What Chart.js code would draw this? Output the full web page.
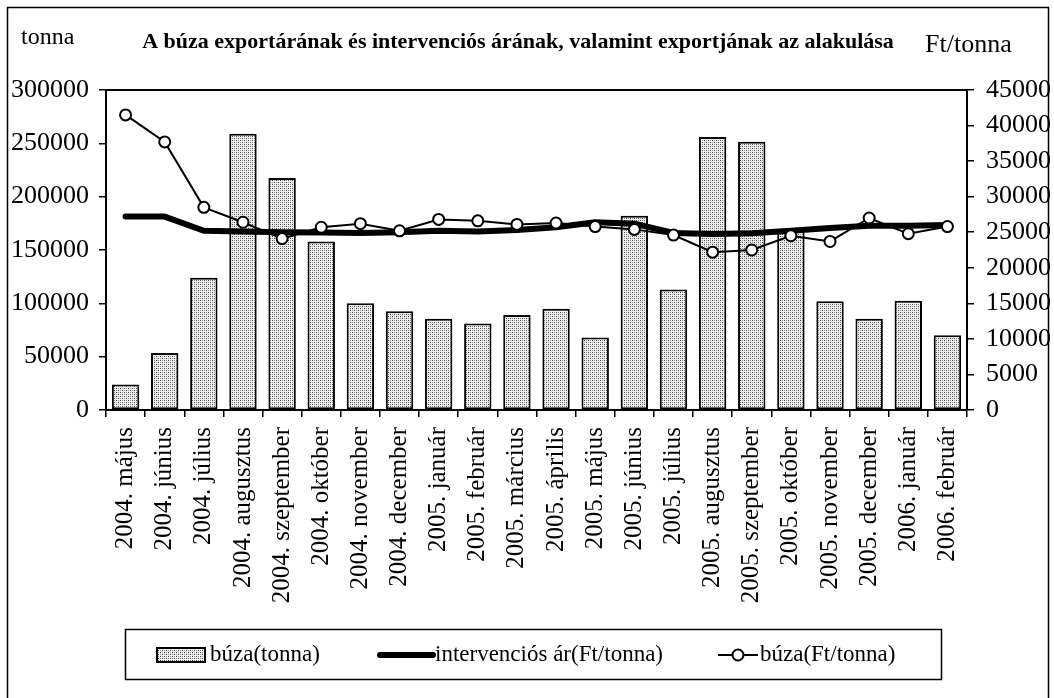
<!DOCTYPE html>
<html>
<head>
<meta charset="utf-8">
<script src="https://cdn.jsdelivr.net/npm/chart.js@4.4.1/dist/chart.umd.min.js"></script>
<style>
    html, body { margin: 0; padding: 0; background: #fff; }
    #wrap { width: 1054px; height: 698px; }
</style>
</head>
<body>
<div id="wrap"><canvas id="chart" width="1054" height="698"></canvas></div>
<script>
// Monthly categories
const months = [
    '2004. május', '2004. június', '2004. július', '2004. augusztus', '2004. szeptember',
    '2004. október', '2004. november', '2004. december', '2005. január', '2005. február',
    '2005. március', '2005. április', '2005. május', '2005. június', '2005. július',
    '2005. augusztus', '2005. szeptember', '2005. október', '2005. november', '2005. december',
    '2006. január', '2006. február'
];

// búza (tonna) - left axis
const exportTonnes = [
    24000, 53500, 124000, 259000, 217500, 158000, 100000, 92500, 85500, 81000, 89000,
    95000, 68000, 182000, 113000, 256000, 251500, 168500, 102000, 85500, 102500, 70000
];

// intervenciós ár (Ft/tonna) - right axis
const interventionPrice = [
    27200, 27200, 25200, 25100, 25000, 24950, 24900, 25000, 25200, 25100, 25300,
    25700, 26400, 26200, 24900, 24750, 24850, 25200, 25600, 25900, 25900, 26000
];

// búza (Ft/tonna) - right axis
const exportPrice = [
    41500, 37700, 28500, 26400, 24100, 25700, 26200, 25200, 26800, 26600, 26100,
    26300, 25800, 25400, 24600, 22200, 22500, 24500, 23700, 27000, 24800, 25800
];

const leftTicks = [0, 50000, 100000, 150000, 200000, 250000, 300000];
const rightTicks = [0, 5000, 10000, 15000, 20000, 25000, 30000, 35000, 40000, 45000];

const titleText = 'A búza exportárának és intervenciós árának, valamint exportjának az alakulása';
const legendLabels = ['búza(tonna)', 'intervenciós ár(Ft/tonna)', 'búza(Ft/tonna)'];

const SERIF = '"Liberation Serif", "Times New Roman", serif';

// dotted fill like the old Excel pattern
function makePattern() {
    const c = document.createElement('canvas');
    c.width = 4;
    c.height = 4;
    const p = c.getContext('2d');
    p.fillStyle = '#f0f0f0';
    p.fillRect(0, 0, 4, 4);
    p.fillStyle = '#444';
    p.fillRect(0, 0, 1, 1);
    p.fillRect(2, 2, 1, 1);
    p.fillStyle = '#909090';
    p.fillRect(2, 0, 1, 1);
    p.fillRect(0, 2, 1, 1);
    return p.createPattern(c, 'repeat');
}

const ctx = document.getElementById('chart');
const dots = makePattern();

const decorations = {
    id: 'decorations',
    beforeDraw(chart) {
        const c = chart.ctx;
        c.save();
        c.fillStyle = '#fff';
        c.fillRect(0, 0, chart.width, chart.height);
        c.restore();
    },
    afterDatasetsDraw(chart) {
        const c = chart.ctx;
        const a = chart.chartArea;
        c.save();
        c.strokeStyle = '#000';
        c.lineWidth = 2;
        c.beginPath();
        c.moveTo(a.left, a.top);
        c.lineTo(a.right, a.top);
        c.stroke();
        c.restore();
    },
    afterDraw(chart) {
        const c = chart.ctx;
        c.save();

        // outer frame
        c.strokeStyle = '#000';
        c.lineWidth = 1.5;
        c.strokeRect(7.5, 7.5, 1041, 700);

        // titles
        c.fillStyle = '#000';
        c.textBaseline = 'middle';
        c.textAlign = 'center';
        c.font = 'bold 22px ' + SERIF;
        c.fillText(titleText, 518, 42);
        c.textAlign = 'left';
        c.font = '24px ' + SERIF;
        c.fillText('tonna', 21, 38);
        c.font = '26px ' + SERIF;
        c.fillText('Ft/tonna', 925, 45);

        // legend
        c.lineWidth = 1.5;
        c.strokeRect(125.5, 629.5, 816, 50);
        const y = 655;
        c.font = '23px ' + SERIF;

        c.fillStyle = dots;
        c.fillRect(157, 648, 48, 14);
        c.lineWidth = 2;
        c.strokeRect(157, 648, 48, 14);
        c.fillStyle = '#000';
        c.fillText(legendLabels[0], 210, y);

        c.lineWidth = 6;
        c.lineCap = 'round';
        c.beginPath();
        c.moveTo(380, y);
        c.lineTo(433, y);
        c.stroke();
        c.lineCap = 'butt';
        c.fillText(legendLabels[1], 435, y);

        c.lineWidth = 2;
        c.beginPath();
        c.moveTo(718, y);
        c.lineTo(758, y);
        c.stroke();
        c.beginPath();
        c.arc(738, y, 5.5, 0, Math.PI * 2);
        c.fillStyle = '#fff';
        c.fill();
        c.stroke();
        c.fillStyle = '#000';
        c.fillText(legendLabels[2], 760, y);

        c.restore();
    }
};

new Chart(ctx, {
    type: 'bar',
    data: {
        labels: months,
        datasets: [
            {
                type: 'line',
                label: legendLabels[2],
                data: exportPrice,
                yAxisID: 'y1',
                borderColor: '#000',
                borderWidth: 2,
                pointRadius: 5.5,
                pointBorderWidth: 2,
                pointBackgroundColor: '#fff',
                pointBorderColor: '#000',
                tension: 0,
                order: 1
            },
            {
                type: 'line',
                label: legendLabels[1],
                data: interventionPrice,
                yAxisID: 'y1',
                borderColor: '#000',
                borderWidth: 6,
                borderCapStyle: 'round',
                borderJoinStyle: 'round',
                pointRadius: 0,
                tension: 0,
                order: 2
            },
            {
                label: legendLabels[0],
                data: exportTonnes,
                yAxisID: 'y',
                backgroundColor: dots,
                borderColor: '#000',
                borderWidth: 2,
                borderSkipped: false,
                categoryPercentage: 1,
                barPercentage: 0.7,
                order: 3
            }
        ]
    },
    options: {
        responsive: false,
        animation: false,
        devicePixelRatio: 1,
        layout: { padding: { top: 90, left: 0, right: 0, bottom: 0 } },
        plugins: {
            legend: { display: false },
            title: { display: false },
            tooltip: { enabled: false }
        },
        scales: {
            x: {
                offset: true,
                grid: {
                    offset: true,
                    drawOnChartArea: false,
                    tickLength: 7,
                    color: '#000',
                    lineWidth: 1.5
                },
                border: { display: true, color: '#000', width: 2 },
                ticks: {
                    autoSkip: false,
                    maxRotation: 90,
                    minRotation: 90,
                    padding: 10,
                    color: '#000',
                    font: { family: SERIF, size: 25 }
                },
                afterFit(scale) { scale.height = 288; }
            },
            y: {
                position: 'left',
                min: 0,
                max: 300000,
                afterBuildTicks(scale) { scale.ticks = leftTicks.map(v => ({ value: v })); },
                grid: {
                    drawOnChartArea: false,
                    tickLength: 7,
                    color: '#000',
                    lineWidth: 1.5
                },
                border: { display: true, color: '#000', width: 2 },
                ticks: {
                    padding: 10,
                    color: '#000',
                    font: { family: SERIF, size: 26 },
                    callback: v => String(v)
                },
                afterFit(scale) { scale.width = 106; }
            },
            y1: {
                position: 'right',
                min: 0,
                max: 45000,
                afterBuildTicks(scale) { scale.ticks = rightTicks.map(v => ({ value: v })); },
                grid: {
                    drawOnChartArea: false,
                    tickLength: 7,
                    color: '#000',
                    lineWidth: 1.5
                },
                border: { display: true, color: '#000', width: 2 },
                ticks: {
                    padding: 12,
                    color: '#000',
                    font: { family: SERIF, size: 26 },
                    callback: v => String(v)
                },
                afterFit(scale) { scale.width = 87; }
            }
        }
    },
    plugins: [decorations]
});
</script>
</body>
</html>
